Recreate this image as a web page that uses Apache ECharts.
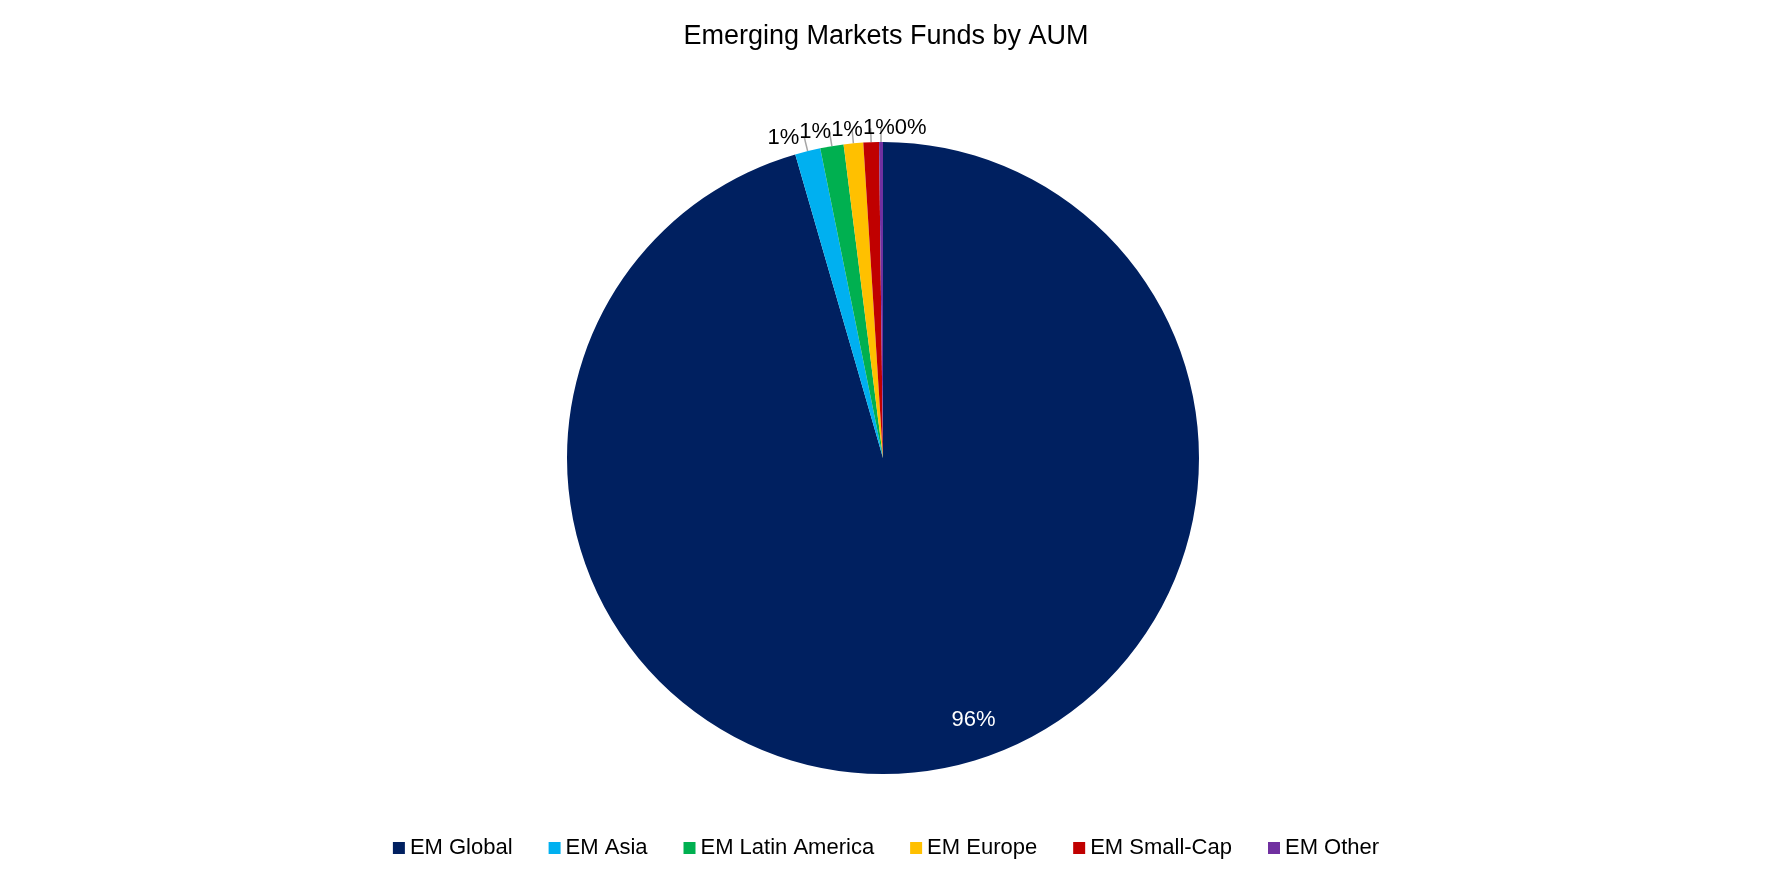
<!DOCTYPE html>
<html><head><meta charset="utf-8">
<script src="https://cdn.jsdelivr.net/npm/echarts@6/dist/echarts.min.js"></script>
<style>html,body{margin:0;padding:0;background:#fff}#c{width:1772px;height:886px}</style>
</head><body><div id="c"></div>
<script>
const categories = ["EM Global","EM Asia","EM Latin America","EM Europe","EM Small-Cap","EM Other"];
const values = [96.0, 1.3, 1.2, 1.0, 0.8, 0.2];
const colors = ["#002060","#00B0F0","#00B050","#FFC000","#C00000","#7030A0"];
const chart = echarts.init(document.getElementById('c'));
const font = "Liberation Sans, Arial, sans-serif";
chart.setOption({
  animation:false,
  title:{text:"Emerging Markets Funds by AUM",left:"center",top:18,textStyle:{fontFamily:font,fontSize:27,fontWeight:"normal",color:"#000"}},
  legend:{bottom:22,left:"center",itemWidth:12,itemHeight:12,itemGap:36,icon:"rect",
    textStyle:{fontFamily:font,fontSize:22,color:"#000"},data:categories},
  series:[{type:"pie",center:[883,458],radius:316,startAngle:90,clockwise:true,
    avoidLabelOverlap:false,
    label:{show:true,position:"outside",formatter:p=>Math.round(p.percent)+"%",
      fontFamily:font,fontSize:22,color:"#000"},
    labelLine:{show:true,length:14,length2:0,lineStyle:{color:"#a6a6a6",width:1.5}},
    labelLayout:{moveOverlap:"shiftX"},
    data:categories.map((n,i)=>({name:n,value:values[i],itemStyle:{color:colors[i]},
      label:i===0?{position:"inside",color:"#fff",offset:[68,103]}:undefined,
      labelLine:i===0?{show:false}:undefined}))
  }]
});
</script></body></html>
